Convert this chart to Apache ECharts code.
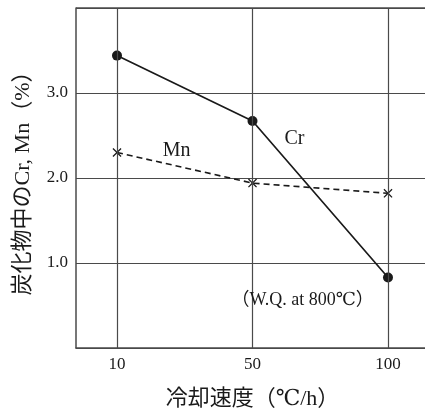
<!DOCTYPE html>
<html>
<head>
<meta charset="utf-8">
<script src="https://cdn.jsdelivr.net/npm/echarts@6/dist/echarts.min.js"></script>
<style>
  html, body { margin: 0; padding: 0; background: #fff; }
  #chart { width: 425px; height: 412px; }
</style>
</head>
<body>
<div id="chart"></div>
<script>
// Cooling rate categories (°C/h), drawn at equal spacing
const categories = ['10', '50', '100'];
// Cr and Mn content in carbides (%)
const crValues = [3.44, 2.67, 0.83];
const mnValues = [2.30, 1.94, 1.82];
const yTicks = [1.0, 2.0, 3.0];

const xPos = categories.map((_, i) => i);
const crData = crValues.map((v, i) => [xPos[i], v]);
const mnData = mnValues.map((v, i) => [xPos[i], v]);

const SERIF = '"Liberation Serif", "DejaVu Serif", "Noto Sans CJK JP", serif';
const INK = '#1a1a1a';
const GRID = '#4a4a4a';
const PAD = 0.3026; // half-gap between the frame and the outer categories

// cross marker as a filled outline
const CROSS = 'path://M0,1L1,0L5,4L9,0L10,1L6,5L10,9L9,10L5,6L1,10L0,9L4,5Z';

const chart = echarts.init(document.getElementById('chart'), null, { renderer: 'canvas' });

chart.setOption({
  backgroundColor: '#fff',
  animation: false,
  grid: { left: 76, top: 8, right: -4, bottom: 64, show: false, containLabel: false, outerBoundsMode: 'none' },
  xAxis: {
    type: 'value',
    min: -PAD,
    max: categories.length - 1 + PAD,
    name: '冷却速度（℃/h）',
    nameLocation: 'middle',
    nameGap: 40,
    nameTextStyle: { fontFamily: SERIF, fontSize: 22, color: INK },
    axisLine: { show: true, onZero: false, lineStyle: { color: GRID, width: 1.5 } },
    axisTick: { show: false, customValues: xPos },
    axisLabel: {
      customValues: xPos,
      formatter: v => categories[Math.round(v)],
      fontFamily: SERIF, fontSize: 17, color: INK, margin: 8
    },
    splitLine: { show: false }
  },
  yAxis: {
    type: 'value',
    min: 0,
    max: 4,
    interval: 1,
    name: '炭化物中のCr, Mn（%）',
    nameLocation: 'middle',
    nameGap: 42,
    nameRotate: 90,
    nameTextStyle: { fontFamily: SERIF, fontSize: 22, color: INK },
    axisLine: { show: true, onZero: false, lineStyle: { color: GRID, width: 1.5 } },
    axisTick: { show: false },
    axisLabel: {
      formatter: v => (yTicks.indexOf(v) >= 0 ? v.toFixed(1) : ''),
      fontFamily: SERIF, fontSize: 17, color: INK, margin: 8
    },
    splitLine: { show: true, lineStyle: { color: GRID, width: 1.2 } }
  },
  series: [
    {
      // vertical grid lines at each category and the top frame edge
      type: 'line',
      data: [],
      silent: true,
      markLine: {
        silent: true,
        symbol: 'none',
        label: { show: false },
        lineStyle: { color: GRID, width: 1.2, type: 'solid' },
        data: xPos.map(x => ({ xAxis: x })).concat([{ yAxis: 4, lineStyle: { color: GRID, width: 1.5, type: 'solid' } }])
      }
    },
    {
      name: 'Mn',
      type: 'line',
      data: mnData,
      symbol: CROSS,
      symbolSize: 9,
      lineStyle: { color: INK, width: 1.6, type: [6, 4] },
      itemStyle: { color: INK },
      markPoint: {
        symbol: 'circle',
        symbolSize: 0,
        label: { show: true, formatter: 'Mn', fontFamily: SERIF, fontSize: 20, color: INK },
        data: [{ coord: [0.44, 2.32] }]
      },
      z: 3
    },
    {
      name: 'Cr',
      type: 'line',
      data: crData,
      symbol: 'circle',
      symbolSize: 10,
      lineStyle: { color: INK, width: 1.7 },
      itemStyle: { color: INK },
      markPoint: {
        symbol: 'circle',
        symbolSize: 0,
        label: { show: true, formatter: 'Cr', fontFamily: SERIF, fontSize: 20, color: INK },
        data: [{ coord: [1.31, 2.46] }]
      },
      z: 4
    },
    {
      // quench condition note
      type: 'scatter',
      data: [],
      markPoint: {
        symbol: 'circle',
        symbolSize: 0,
        label: { show: true, formatter: '（W.Q. at 800℃）', fontFamily: SERIF, fontSize: 18, color: INK },
        data: [{ coord: [1.37, 0.56] }]
      }
    }
  ]
});
</script>
</body>
</html>
